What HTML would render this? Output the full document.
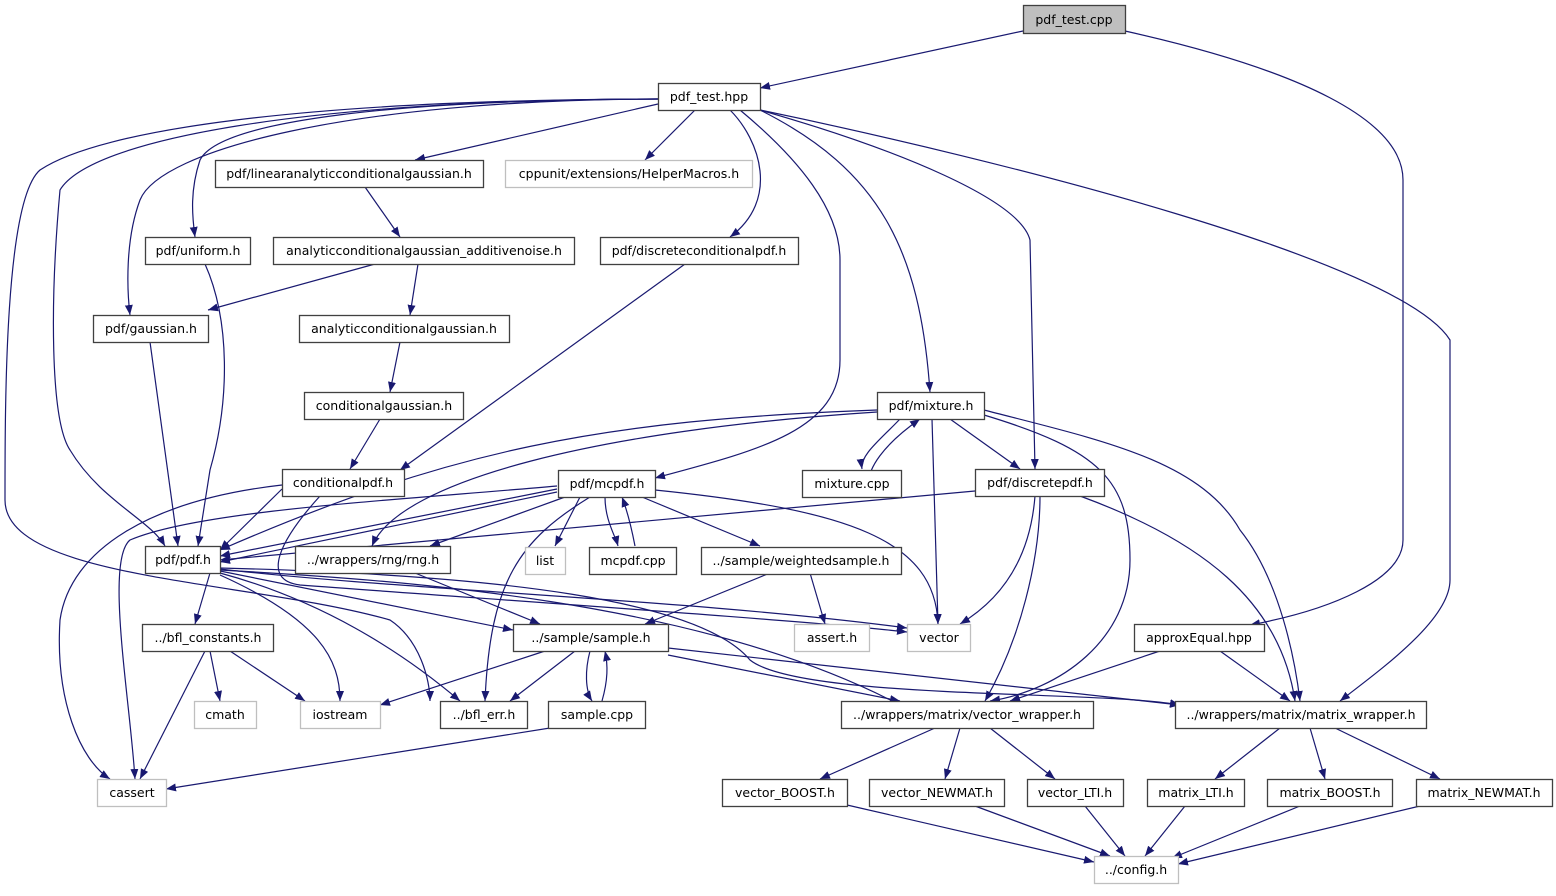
<!DOCTYPE html>
<html><head><meta charset="utf-8"><style>
html,body{margin:0;padding:0;background:#fff}
svg text{font-family:"DejaVu Sans","Liberation Sans",sans-serif;font-size:12.5px;text-anchor:middle;fill:#000}
.n{fill:#fff;stroke:#404040;stroke-width:1.3}
.g{fill:#fff;stroke:#bfbfbf;stroke-width:1.3}
.e{fill:none;stroke:#191970;stroke-width:1.2;marker-end:url(#a)}
</style></head><body>
<svg width="1556" height="891" viewBox="0 0 1556 891" xmlns="http://www.w3.org/2000/svg">
<defs><marker id="a" viewBox="0 0 10 10" refX="10" refY="5" markerWidth="10" markerHeight="10" markerUnits="userSpaceOnUse" orient="auto"><path d="M0,1 L10,5 L0,9 z" fill="#191970"/></marker></defs>
<g>
<path class="e" d="M1023,31 L760,88"/>
<path class="e" d="M1125,31 C1300,70 1403,120 1403,180 L1403,540 C1403,580 1330,610 1250,625"/>
<path class="e" d="M658,104 L415,160"/>
<path class="e" d="M695,110 L645,160"/>
<path class="e" d="M730,110 C760,140 780,200 730,237"/>
<path class="e" d="M658,99 C400,100 220,120 200,160 C190,190 192,215 195,237"/>
<path class="e" d="M658,99 C350,100 160,150 140,200 C125,240 127,290 130,315"/>
<path class="e" d="M658,99 C300,100 90,140 60,190 C50,300 50,420 70,450 C100,500 150,520 165,546"/>
<path class="e" d="M658,99 C300,100 100,130 40,170 C5,200 5,400 5,500 C5,580 250,580 390,620 C420,640 430,680 430,701"/>
<path class="e" d="M740,110 C800,160 840,210 840,260 L840,360 C840,430 760,450 655,478"/>
<path class="e" d="M760,110 C880,170 920,250 930,392"/>
<path class="e" d="M760,110 C900,150 1020,200 1030,240 L1035,469"/>
<path class="e" d="M760,110 C1000,160 1400,260 1450,340 L1450,580 C1450,620 1380,670 1340,701"/>
<path class="e" d="M365,187 L400,237"/>
<path class="e" d="M375,264 L208,310"/>
<path class="e" d="M418,264 L410,315"/>
<path class="e" d="M400,342 L390,392"/>
<path class="e" d="M380,419 L350,469"/>
<path class="e" d="M685,264 L400,470"/>
<path class="e" d="M150,342 L178,546"/>
<path class="e" d="M205,264 C230,320 230,400 210,470 L198,546"/>
<path class="e" d="M282,489 L220,550"/>
<path class="e" d="M282,485 C150,500 70,550 60,620 C55,700 80,760 110,779"/>
<path class="e" d="M320,496 C280,540 260,580 300,585 C500,600 800,620 907,632"/>
<path class="e" d="M877,410 C600,420 450,450 220,550"/>
<path class="e" d="M877,412 C600,430 400,480 372,546"/>
<path class="e" d="M870,496 C860,470 890,440 920,419"/>
<path class="e" d="M930,419 C910,450 870,470 862,469" style="display:none"/>
<path class="e" d="M900,419 C880,440 860,455 862,469"/>
<path class="e" d="M950,419 L1020,469"/>
<path class="e" d="M932,419 L938,624"/>
<path class="e" d="M984,415 C1100,450 1130,480 1130,560 C1130,640 1060,690 990,701"/>
<path class="e" d="M984,410 C1100,440 1200,460 1240,530 C1280,580 1295,660 1300,701"/>
<path class="e" d="M975,491 L220,560"/>
<path class="e" d="M1040,496 C1040,560 1020,640 985,701"/>
<path class="e" d="M1035,496 C1030,560 1000,600 960,624"/>
<path class="e" d="M1080,496 C1200,540 1280,600 1295,701"/>
<path class="e" d="M557,489 L220,556"/>
<path class="e" d="M557,492 L220,562"/>
<path class="e" d="M565,497 L430,546"/>
<path class="e" d="M580,497 L555,546"/>
<path class="e" d="M605,497 C605,520 615,535 618,546"/>
<path class="e" d="M635,546 C630,520 625,505 622,497"/>
<path class="e" d="M642,497 L760,546"/>
<path class="e" d="M655,490 C850,510 935,540 938,624"/>
<path class="e" d="M590,497 C520,540 490,580 485,701"/>
<path class="e" d="M557,486 C400,500 200,510 130,540 C105,560 130,700 135,779"/>
<path class="e" d="M415,573 L540,624"/>
<path class="e" d="M770,573 L645,624"/>
<path class="e" d="M810,573 L825,624"/>
<path class="e" d="M210,573 L195,624"/>
<path class="e" d="M220,571 L513,630"/>
<path class="e" d="M220,569 C400,590 700,600 907,628"/>
<path class="e" d="M220,575 C320,620 340,660 340,701"/>
<path class="e" d="M220,573 C320,600 400,650 460,701"/>
<path class="e" d="M220,570 C400,580 700,600 900,705"/>
<path class="e" d="M220,568 C500,575 700,600 750,660 C800,700 1100,690 1180,705"/>
<path class="e" d="M210,651 L220,701"/>
<path class="e" d="M230,651 L305,701"/>
<path class="e" d="M205,651 L140,779"/>
<path class="e" d="M545,651 L380,705"/>
<path class="e" d="M575,651 L510,701"/>
<path class="e" d="M590,651 C585,670 585,690 592,701"/>
<path class="e" d="M602,701 C608,680 608,665 605,651"/>
<path class="e" d="M668,655 L900,701"/>
<path class="e" d="M668,648 L1180,705"/>
<path class="e" d="M550,728 L166,789"/>
<path class="e" d="M1160,651 L1010,701"/>
<path class="e" d="M1220,651 L1290,701"/>
<path class="e" d="M935,728 L820,779"/>
<path class="e" d="M960,728 L945,779"/>
<path class="e" d="M990,728 L1055,779"/>
<path class="e" d="M1280,728 L1215,779"/>
<path class="e" d="M1310,728 L1325,779"/>
<path class="e" d="M1335,728 L1440,779"/>
<path class="e" d="M847,805 L1094,862"/>
<path class="e" d="M975,806 L1110,856"/>
<path class="e" d="M1085,806 L1125,856"/>
<path class="e" d="M1185,806 L1145,856"/>
<path class="e" d="M1300,806 L1172,858"/>
<path class="e" d="M1420,806 L1178,864"/>
</g>
<g>
<rect x="1023.5" y="5.5" width="102" height="28" fill="#bfbfbf" stroke="#404040" stroke-width="1.3"/><text x="1074" y="24">pdf_test.cpp</text>
<rect class="n" x="658.5" y="83.5" width="102" height="27"/><text x="709" y="101">pdf_test.hpp</text>
<rect class="n" x="215.5" y="160.5" width="268" height="27"/><text x="349" y="178">pdf/linearanalyticconditionalgaussian.h</text>
<rect class="g" x="505.5" y="160.5" width="247" height="27"/><text x="629" y="178">cppunit/extensions/HelperMacros.h</text>
<rect class="n" x="145.5" y="237.5" width="105" height="27"/><text x="198" y="255">pdf/uniform.h</text>
<rect class="n" x="273.5" y="237.5" width="301" height="27"/><text x="424" y="255">analyticconditionalgaussian_additivenoise.h</text>
<rect class="n" x="600.5" y="237.5" width="198" height="27"/><text x="699" y="255">pdf/discreteconditionalpdf.h</text>
<rect class="n" x="93.5" y="315.5" width="115" height="27"/><text x="151" y="333">pdf/gaussian.h</text>
<rect class="n" x="299.5" y="315.5" width="210" height="27"/><text x="404" y="333">analyticconditionalgaussian.h</text>
<rect class="n" x="304.5" y="392.5" width="159" height="27"/><text x="384" y="410">conditionalgaussian.h</text>
<rect class="n" x="877.5" y="392.5" width="107" height="27"/><text x="931" y="410">pdf/mixture.h</text>
<rect class="n" x="282.5" y="469.5" width="122" height="27"/><text x="343" y="487">conditionalpdf.h</text>
<rect class="n" x="558.5" y="470.5" width="97" height="27"/><text x="607" y="488">pdf/mcpdf.h</text>
<rect class="n" x="802.5" y="470.5" width="99" height="27"/><text x="852" y="488">mixture.cpp</text>
<rect class="n" x="975.5" y="469.5" width="129" height="27"/><text x="1040" y="487">pdf/discretepdf.h</text>
<rect class="n" x="145.5" y="546.5" width="75" height="27"/><text x="183" y="564">pdf/pdf.h</text>
<rect class="n" x="295.5" y="546.5" width="155" height="27"/><text x="373" y="564">../wrappers/rng/rng.h</text>
<rect class="g" x="525.5" y="547.5" width="40" height="27"/><text x="545" y="565">list</text>
<rect class="n" x="589.5" y="547.5" width="87" height="27"/><text x="633" y="565">mcpdf.cpp</text>
<rect class="n" x="701.5" y="547.5" width="200" height="27"/><text x="801" y="565">../sample/weightedsample.h</text>
<rect class="n" x="142.5" y="624.5" width="131" height="27"/><text x="208" y="642">../bfl_constants.h</text>
<rect class="n" x="513.5" y="624.5" width="155" height="27"/><text x="591" y="642">../sample/sample.h</text>
<rect class="g" x="794.5" y="624.5" width="75" height="27"/><text x="832" y="642">assert.h</text>
<rect class="g" x="907.5" y="624.5" width="63" height="27"/><text x="939" y="642">vector</text>
<rect class="n" x="1134.5" y="624.5" width="130" height="27"/><text x="1199" y="642">approxEqual.hpp</text>
<rect class="g" x="194.5" y="701.5" width="62" height="27"/><text x="225" y="719">cmath</text>
<rect class="g" x="300.5" y="701.5" width="80" height="27"/><text x="340" y="719">iostream</text>
<rect class="n" x="440.5" y="701.5" width="87" height="27"/><text x="484" y="719">../bfl_err.h</text>
<rect class="n" x="548.5" y="701.5" width="97" height="27"/><text x="597" y="719">sample.cpp</text>
<rect class="n" x="841.5" y="701.5" width="252" height="27"/><text x="967" y="719">../wrappers/matrix/vector_wrapper.h</text>
<rect class="n" x="1175.5" y="701.5" width="251" height="27"/><text x="1301" y="719">../wrappers/matrix/matrix_wrapper.h</text>
<rect class="g" x="97.5" y="779.5" width="69" height="27"/><text x="132" y="797">cassert</text>
<rect class="n" x="722.5" y="779.5" width="125" height="27"/><text x="785" y="797">vector_BOOST.h</text>
<rect class="n" x="869.5" y="779.5" width="135" height="27"/><text x="937" y="797">vector_NEWMAT.h</text>
<rect class="n" x="1027.5" y="779.5" width="96" height="27"/><text x="1075" y="797">vector_LTI.h</text>
<rect class="n" x="1147.5" y="779.5" width="97" height="27"/><text x="1196" y="797">matrix_LTI.h</text>
<rect class="n" x="1267.5" y="779.5" width="125" height="27"/><text x="1330" y="797">matrix_BOOST.h</text>
<rect class="n" x="1416.5" y="779.5" width="136" height="27"/><text x="1484" y="797">matrix_NEWMAT.h</text>
<rect class="g" x="1094.5" y="856.5" width="84" height="27"/><text x="1136" y="874">../config.h</text>
</g>
</svg>
</body></html>
